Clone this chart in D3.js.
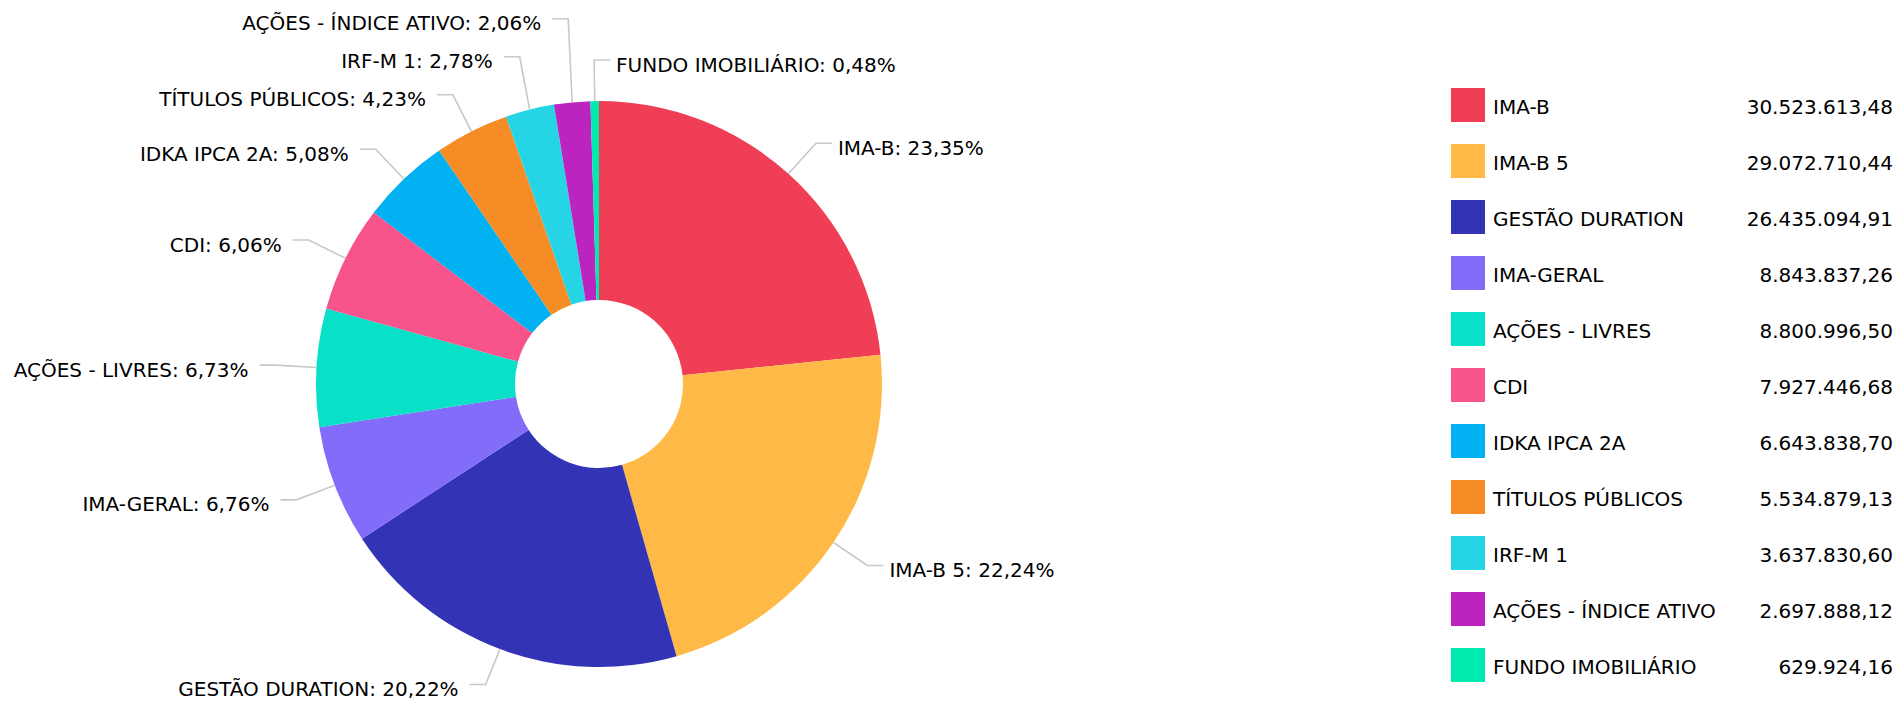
<!DOCTYPE html>
<html>
<head>
<meta charset="utf-8">
<script src="https://cdn.jsdelivr.net/npm/d3@7"></script>
<style>
  html, body { margin: 0; padding: 0; background: #ffffff; }
  svg { display: block; }
  text { font-family: "DejaVu Sans", Verdana, sans-serif; font-size: 20px; fill: #000; }
</style>
</head>
<body>
<svg id="chart" width="1901" height="701"></svg>
<script>
const categories = [
  "IMA-B", "IMA-B 5", "GESTÃO DURATION", "IMA-GERAL", "AÇÕES - LIVRES", "CDI",
  "IDKA IPCA 2A", "TÍTULOS PÚBLICOS", "IRF-M 1", "AÇÕES - ÍNDICE ATIVO", "FUNDO IMOBILIÁRIO"
];
const values = [
  30523613.48, 29072710.44, 26435094.91, 8843837.26, 8800996.50, 7927446.68,
  6643838.70, 5534879.13, 3637830.60, 2697888.12, 629924.16
];
const colors = [
  "#EF3E55", "#FFB946", "#3333B5", "#826DFB", "#08E0C8", "#F8548C",
  "#02B1F1", "#F58C25", "#26D5E5", "#BC24C0", "#00EAB0"
];

const svg = d3.select("#chart");
const cx = 599, cy = 384, rOuter = 283, rInner = 84;
const len1 = 41, len2 = 16, minGap = 38;
const maxLabelY = 701 - cy - 16.5; // keep bottom label inside the picture

const locale = d3.formatLocale({ decimal: ",", thousands: ".", grouping: [3], currency: ["R$", ""] });
const fmtVal = locale.format(",.2f");
const fmtPct = locale.format(".2f");

const data = categories.map((c, i) => ({ name: c, value: values[i], color: colors[i] }));
const total = d3.sum(values);

const pie = d3.pie().sort(null).value(d => d.value).startAngle(0).endAngle(2 * Math.PI);
const arcs = pie(data);
const arc = d3.arc().innerRadius(rInner).outerRadius(rOuter);

const g = svg.append("g").attr("transform", `translate(${cx},${cy})`);
g.selectAll("path.slice").data(arcs).enter().append("path")
  .attr("class", "slice")
  .attr("d", arc)
  .attr("fill", d => d.data.color);

// label layout
const labels = arcs.map(a => {
  const m = (a.startAngle + a.endAngle) / 2;
  const s = Math.sin(m), c = -Math.cos(m);
  return {
    a, m,
    side: s >= -0.02 ? "right" : "left",
    x0: s * rOuter, y0: c * rOuter,
    x1: s * (rOuter + len1), y1: Math.min(c * (rOuter + len1), maxLabelY),
    text: a.data.name + ": " + fmtPct(a.data.value / total * 100) + "%"
  };
});
["left", "right"].forEach(side => {
  const grp = labels.filter(l => l.side === side).sort((p, q) => q.y1 - p.y1);
  for (let i = 1; i < grp.length; i++) {
    grp[i].y1 = Math.min(grp[i].y1, grp[i - 1].y1 - minGap);
  }
});

const lg = svg.append("g").attr("transform", `translate(${cx},${cy})`);
labels.forEach(l => {
  const dir = l.side === "right" ? 1 : -1;
  const x2 = l.x1 + dir * len2;
  lg.append("polyline")
    .attr("points", `${l.x0},${l.y0} ${l.x1},${l.y1} ${x2},${l.y1}`)
    .attr("fill", "none")
    .attr("stroke", "#c8c8c8")
    .attr("stroke-width", 1.6);
  lg.append("text")
    .attr("x", x2 + (l.side === "right" ? 6 : -11))
    .attr("y", l.y1 + 11.5)
    .attr("text-anchor", l.side === "right" ? "start" : "end")
    .text(l.text);
});

// legend
const legX = 1451, legY = 88, legStep = 56, sw = 34, valRight = 1893;
const leg = svg.append("g");
data.forEach((d, i) => {
  const y = legY + i * legStep;
  leg.append("rect").attr("x", legX).attr("y", y).attr("width", sw).attr("height", sw).attr("fill", d.color);
  leg.append("text").attr("x", legX + 42).attr("y", y + 26).text(d.name);
  leg.append("text").attr("x", valRight).attr("y", y + 26).attr("text-anchor", "end").text(fmtVal(d.value));
});
</script>
</body>
</html>
